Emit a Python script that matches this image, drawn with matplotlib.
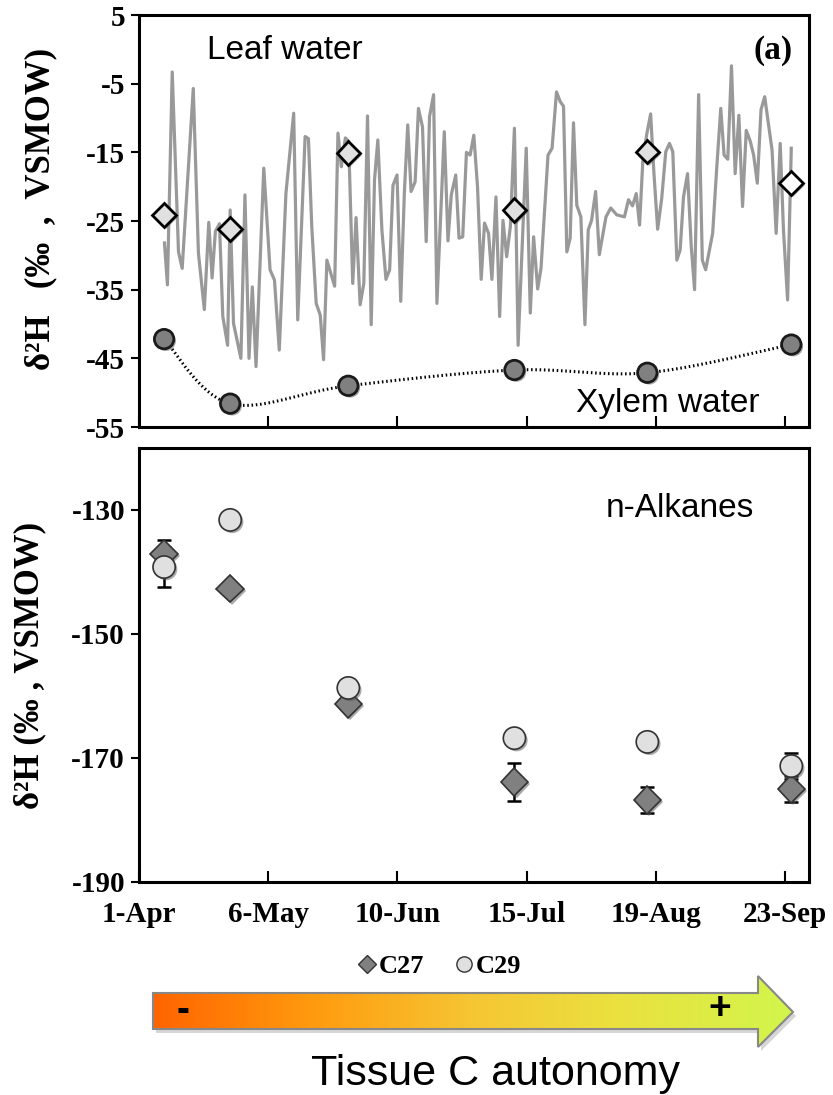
import numpy as np
import matplotlib
matplotlib.use("Agg")
import matplotlib.pyplot as plt
from matplotlib.lines import Line2D
from matplotlib.patches import Polygon
from matplotlib.colors import LinearSegmentedColormap
import matplotlib.patheffects as pe

plt.rcParams["axes.unicode_minus"] = False

# ---------------- data ----------------
# x values: days after 1 April
tick_days = [0, 35, 70, 105, 140, 175]
tick_labels = ["1-Apr", "6-May", "10-Jun", "15-Jul", "19-Aug", "23-Sep"]

sample_days = [6.8, 24.7, 56.7, 101.7, 137.7, 176.7]
leaf_sampled = [-24.1, -26.2, -15.1, -23.4, -14.9, -19.5]
xylem = [-42.2, -51.6, -49.0, -46.7, -47.1, -43.0]

leaf_days = [6.9, 7.7, 9.0, 10.7, 11.7, 14.7, 16.1, 17.7, 18.9, 19.8, 20.7, 21.8, 22.7,
             24.0, 24.7, 25.6, 27.6, 28.7, 29.8, 30.7, 31.7, 33.8, 35.5, 36.7, 38.0, 39.8,
             41.9, 43.0, 45.0, 45.9, 46.8, 48.0, 49.1, 50.0, 50.9, 53.0, 53.9, 54.8, 55.9,
             56.8, 57.9, 58.8, 59.9, 60.9, 61.9, 62.9, 63.8, 64.7, 65.8, 66.9, 67.9, 68.8,
             69.9, 70.9, 71.9, 72.8, 73.7, 74.8, 75.7, 76.8, 77.8, 78.7, 79.8, 80.7, 82.7,
             83.7, 84.6, 85.8, 86.7, 87.7, 88.7, 89.7, 90.7, 91.7, 92.7, 93.6, 94.7, 95.6,
             96.7, 97.7, 98.6, 99.6, 100.6, 101.7, 102.7, 103.8, 104.9, 106.0, 106.9, 108.0,
             108.9, 110.8, 111.9, 113.1, 114.1, 115.0, 115.9, 116.8, 117.7, 118.6, 119.7,
             120.8, 121.7, 122.6, 123.7, 124.7, 126.5, 127.8, 129.4, 131.5, 132.6, 133.7,
             134.7, 135.6, 136.5, 137.5, 138.6, 139.5, 140.5, 141.6, 142.7, 143.7, 144.6,
             145.7, 146.6, 147.5, 148.6, 149.6, 150.5, 151.6, 152.6, 153.5, 155.4, 156.5,
             157.6, 158.5, 159.5, 160.5, 161.5, 162.5, 163.5, 164.5, 165.6, 166.5, 167.5,
             168.5, 169.5, 171.5, 172.6, 173.7, 174.6, 175.7, 176.7]
leaf_vals = [-28.2, -34.3, -3.3, -29.5, -31.9, -5.7, -29.7, -37.9, -25.2, -33.3, -26.5, -25.4, -38.9,
             -43.1, -23.4, -39.9, -45.0, -21.2, -45.0, -34.6, -46.2, -17.3, -32.1, -33.6, -43.8, -21.0,
             -9.3, -39.4, -12.7, -13.0, -25.8, -37.0, -38.7, -45.2, -30.7, -34.5, -12.2, -17.1, -12.9,
             -13.4, -34.1, -24.5, -37.2, -34.1, -9.7, -40.1, -19.0, -13.2, -26.3, -33.5, -32.1, -19.8,
             -18.3, -36.7, -20.7, -11.0, -20.7, -19.3, -8.6, -11.3, -28.0, -9.8, -6.6, -37.0, -12.0,
             -27.9, -21.2, -18.3, -27.5, -27.3, -15.0, -15.4, -12.5, -20.0, -33.5, -25.3, -26.8, -33.5,
             -21.5, -38.9, -24.9, -30.2, -25.8, -11.5, -43.1, -28.7, -14.4, -38.4, -27.3, -34.9,
             -31.9, -15.4, -14.4, -6.2, -7.6, -8.3, -29.5, -27.5, -10.7, -22.7, -24.4,
             -40.1, -26.3, -24.9, -20.7, -29.9, -24.4, -23.1, -24.1, -24.4, -21.9, -22.8,
             -21.0, -25.6, -16.1, -12.5, -9.4, -18.1, -26.2, -21.7, -14.9, -13.7, -14.9,
             -30.7, -29.2, -21.5, -18.1, -28.7, -35.0, -6.6, -30.7, -32.1, -26.8, -17.3,
             -8.6, -15.4, -16.0, -2.4, -18.1, -9.6, -22.9, -11.8, -13.4, -15.4, -19.5,
             -8.8, -6.9, -14.7, -26.8, -13.7, -26.5, -36.5, -14.4]

c27 = [-137.1, -142.7, -161.3, -173.9, -176.8, -175.0]
c27_err = [2.3, 0.0, 0.0, 3.1, 2.1, 2.1]
c29 = [-139.2, -131.6, -158.7, -166.8, -167.4, -171.3]
c29_err = [3.2, 0.0, 0.0, 0.0, 0.0, 2.1]

# ---------------- style ----------------
SERIF = "Liberation Serif"
SANS = "Liberation Sans"
W, H = 833, 1095
fig = plt.figure(figsize=(W / 100, H / 100), dpi=100)

XMIN, XMAX = 0, 181.5
ax1 = fig.add_axes([139 / W, 1 - 427 / H, 670 / W, 412 / H])
ax2 = fig.add_axes([139 / W, 1 - 882 / H, 670 / W, 434 / H])

shadow = [pe.SimplePatchShadow(offset=(1.5, -1.5), shadow_rgbFace="#555555", alpha=0.5), pe.Normal()]

def style_axes(ax):
    for s in ax.spines.values():
        s.set_linewidth(2.2)
        s.set_color("black")
    ax.tick_params(axis="y", direction="out", length=6, width=1.5, pad=4)
    ax.tick_params(axis="x", direction="in", length=8, width=1.5, pad=14)
    for lab in ax.get_yticklabels() + ax.get_xticklabels():
        lab.set_fontfamily(SERIF)
        lab.set_fontweight("bold")
        lab.set_fontsize(21)
    ax.set_xlim(XMIN, XMAX)
    ax.set_xticks(tick_days)

# ---- top panel ----
ax1.plot(leaf_days, leaf_vals, color="#999999", lw=2.3, zorder=2)

# smooth (Catmull-Rom) curve through xylem points, computed in display-like scale
def catmull_rom(xs, ys, sx, sy, n=40):
    P = np.column_stack([np.asarray(xs) * sx, np.asarray(ys) * sy])
    P = np.vstack([P[0], P, P[-1]])
    out = []
    for i in range(1, len(P) - 2):
        p0, p1, p2, p3 = P[i - 1], P[i], P[i + 1], P[i + 2]
        t = np.linspace(0, 1, n)[:, None]
        pt = 0.5 * ((2 * p1) + (-p0 + p2) * t + (2 * p0 - 5 * p1 + 4 * p2 - p3) * t ** 2
                    + (-p0 + 3 * p1 - 3 * p2 + p3) * t ** 3)
        out.append(pt)
    out = np.vstack(out)
    return out[:, 0] / sx, out[:, 1] / sy

cx, cy = catmull_rom(sample_days, xylem, 3.69, 6.87)
ax1.plot(cx, cy, color="black", lw=2.2, ls=(0, (0.5, 0.9)), zorder=3)
ax1.plot(sample_days, xylem, ls="none", marker="o", ms=14, mfc="#808080", mec="#1a1a1a",
         mew=2.0, zorder=5, path_effects=shadow)
leaf_faces = ["#e0e0e0"] * 5 + ["white"]
for d, v, fc in zip(sample_days, leaf_sampled, leaf_faces):
    ax1.plot([d], [v], ls="none", marker="D", ms=12, mfc=fc, mec="black", mew=2.0, zorder=6,
             path_effects=shadow)

ax1.set_ylim(-55, 5)
ax1.set_yticks(np.arange(5, -56, -10))
ax1.set_xticklabels([])
style_axes(ax1)
ax1.set_ylabel("δ²H   (‰  ,  VSMOW)", fontfamily=SERIF, fontweight="bold", fontsize=25)
ax1.yaxis.set_label_coords(-0.122, 0.53)
ax1.text(0.102, 0.915, "Leaf water", transform=ax1.transAxes, fontfamily=SANS, fontsize=24,
         ha="left", va="center")
ax1.text(0.975, 0.915, "(a)", transform=ax1.transAxes, fontfamily=SERIF, fontweight="bold",
         fontsize=24, ha="right", va="center")
ax1.text(0.652, 0.058, "Xylem water", transform=ax1.transAxes, fontfamily=SANS, fontsize=24,
         ha="left", va="center")

# ---- bottom panel ----
ax2.errorbar(sample_days, c27, yerr=c27_err, fmt="none", ecolor="black", elinewidth=1.8,
             capsize=5, capthick=1.8, zorder=3)
ax2.errorbar(sample_days, c29, yerr=c29_err, fmt="none", ecolor="black", elinewidth=1.8,
             capsize=5, capthick=1.8, zorder=3)
ax2.plot(sample_days, c27, ls="none", marker="D", ms=14, mfc="#808080", mec="#333333", mew=1.2,
         zorder=4, path_effects=shadow)
ax2.plot(sample_days, c29, ls="none", marker="o", ms=16, mfc="#e0e0e0", mec="#333333", mew=1.2,
         zorder=5, path_effects=shadow)
ax2.set_ylim(-190, -120)
ax2.set_yticks([-190, -170, -150, -130])
ax2.set_xticklabels(tick_labels)
style_axes(ax2)
ax2.set_ylabel("δ²H (‰ , VSMOW)", fontfamily=SERIF, fontweight="bold", fontsize=25)
ax2.yaxis.set_label_coords(-0.138, 0.5)
ax2.text(0.697, 0.86, "n-Alkanes", transform=ax2.transAxes, fontfamily=SANS, fontsize=24,
         ha="left", va="center")

# legend
handles = [Line2D([], [], ls="none", marker="D", ms=9, mfc="#808080", mec="#333333", mew=1),
           Line2D([], [], ls="none", marker="o", ms=11, mfc="#e0e0e0", mec="#333333", mew=1)]
fig.legend(handles, ["C27", "C29"], loc="center", bbox_to_anchor=(440 / W, 1 - 966 / H),
           ncol=2, frameon=False, handlelength=0.6, handletextpad=0.15, columnspacing=1.2,
           prop={"family": SERIF, "weight": "bold", "size": 19})

# ---- gradient arrow ----
ov = fig.add_axes([0, 0, 1, 1], zorder=-1)
ov.set_xlim(0, W)
ov.set_ylim(H, 0)
ov.axis("off")
arrow_pts = [(153, 993), (758, 993), (758, 976), (793, 1012), (758, 1047), (758, 1029), (153, 1029)]
shadow_poly = Polygon([(x + 3, y + 4) for x, y in arrow_pts], closed=True, fc="#bbbbbb",
                      ec="none", alpha=0.6, zorder=0.5)
ov.add_patch(shadow_poly)
cmap = LinearSegmentedColormap.from_list(
    "arr", [(0, "#ff6400"), (0.25, "#ff9b0e"), (0.5, "#f6c633"), (0.72, "#ebe03e"), (1, "#d2f64c")])
grad = np.linspace(0, 1, 256)[None, :]
im = ov.imshow(grad, cmap=cmap, extent=(153, 793, 1047, 976), aspect="auto",
               interpolation="bilinear", zorder=1)
poly = Polygon(arrow_pts, closed=True, fc="none", ec="#888888", lw=1.5, zorder=2)
ov.add_patch(poly)
im.set_clip_path(poly)
ov.text(183, 1011, "-", fontfamily=SANS, fontweight="bold", fontsize=28, ha="center", va="center", zorder=3)
ov.text(720, 1009, "+", fontfamily=SANS, fontweight="bold", fontsize=28, ha="center", va="center", zorder=3)
ov.text(496, 1074, "Tissue C autonomy", fontfamily=SANS, fontsize=31, ha="center", va="center")

fig.savefig("out.png", dpi=100)
